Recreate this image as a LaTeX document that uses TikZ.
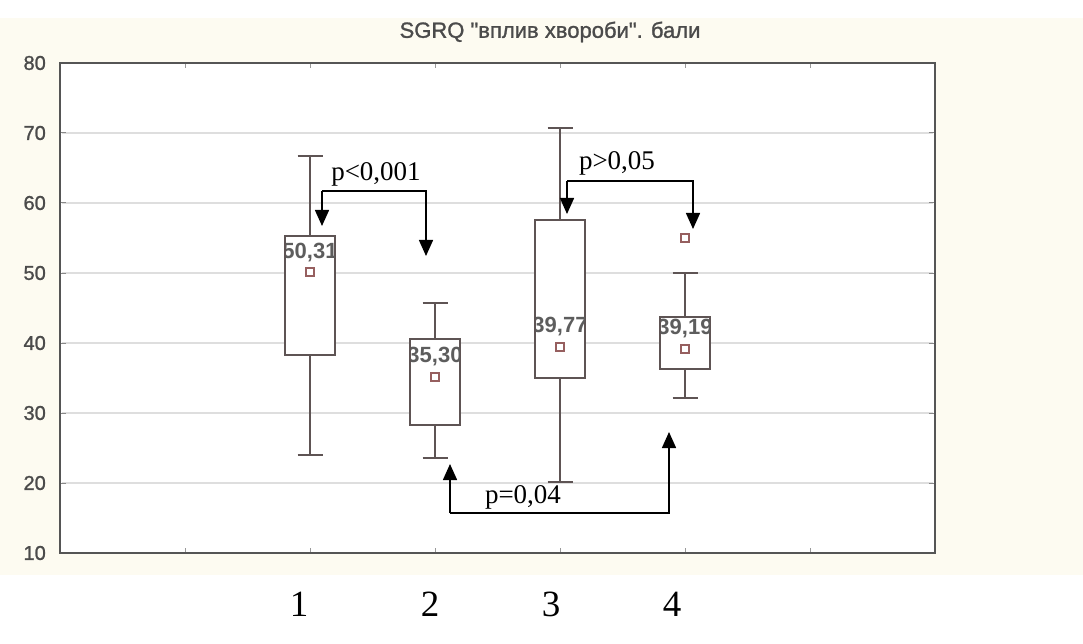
\documentclass[tikz,border=0pt]{standalone}
\usepackage{fontspec}
\setmainfont{Liberation Serif}
\newfontfamily\plotfont[FakeBold=1.2]{Liberation Sans}
\newfontfamily\plotbold{Liberation Sans Bold}
\usetikzlibrary{arrows.meta}
\definecolor{cream}{RGB}{253,251,241}
\definecolor{framegray}{RGB}{85,85,85}
\definecolor{gridgray}{RGB}{222,222,222}
\definecolor{boxgray}{RGB}{94,84,84}
\definecolor{meanred}{RGB}{150,95,95}
\definecolor{labgray}{RGB}{75,75,75}
\tikzset{
  boxline/.style={draw=boxgray, line width=1.4pt},
  meanmark/.style={draw=meanred, line width=1.6pt, fill=white, minimum size=8pt, inner sep=0pt, shape=rectangle},
  ylab/.style={font=\plotfont\fontsize{20}{20}\selectfont, text=labgray, anchor=east, inner sep=0pt},
  boxlab/.style={font=\plotbold\fontsize{22}{22}\selectfont, text=labgray!90, inner sep=0pt},
  catlab/.style={font=\fontsize{37}{37}\selectfont, inner sep=0pt},
  plab/.style={font=\fontsize{27}{27}\selectfont, inner sep=0pt},
  parrow/.style={line width=1.5pt, black},
  tip/.style={-{Triangle[length=16pt,width=14pt]}},
}
\begin{document}
\begin{tikzpicture}[x=1pt,y=-1pt]
\useasboundingbox (0,0) rectangle (1083,644);
\fill[white] (0,0) rectangle (1083,644);
\fill[cream] (0,18) rectangle (1083,575);
\fill[white] (60,63) rectangle (935,553);
% gridlines
\foreach \yy in {133,203,273,343,413,483}
  \draw[gridgray, line width=1.6pt] (62,\yy) -- (933,\yy);
% ticks
\foreach \yy in {133,203,273,343,413,483} {
  \draw[framegray!70, line width=1pt] (60,\yy) -- (66,\yy);
  \draw[framegray!70, line width=1pt] (929,\yy) -- (935,\yy);
}
\foreach \xx in {185,310,435,560,685,810} {
  \draw[framegray!60, line width=1pt] (\xx,63) -- (\xx,68);
  \draw[framegray!60, line width=1pt] (\xx,548) -- (\xx,553);
}
% frame
\draw[framegray, line width=2pt] (60,63) rectangle (935,553);
% title
\node[font=\plotfont\fontsize{22}{22}\selectfont, text=labgray] (title) at (550,32) {SGRQ "вплив хвороби". бали};
% y labels
\node[ylab] (y80) at (46,63) {80};
\node[ylab] (y70) at (46,133) {70};
\node[ylab] (y60) at (46,203) {60};
\node[ylab] (y50) at (46,273) {50};
\node[ylab] (y40) at (46,343) {40};
\node[ylab] (y30) at (46,413) {30};
\node[ylab] (y20) at (46,483) {20};
\node[ylab] (y10) at (46,553) {10};
% box 1
\draw[boxline] (310,156) -- (310,236) (310,355) -- (310,455);
\draw[boxline] (297.5,156) -- (322.5,156) (297.5,455) -- (322.5,455);
\draw[boxline, fill=white] (285,236) rectangle (335,355);
\begin{scope}\clip (286,237) rectangle (334,354);
\node[boxlab] (l1) at (310,253) {50,31};
\end{scope}
\node[meanmark] (m1) at (310,272) {};
% box 2
\draw[boxline] (435,303) -- (435,339) (435,425) -- (435,458);
\draw[boxline] (422.5,303) -- (447.5,303) (422.5,458) -- (447.5,458);
\draw[boxline, fill=white] (410,339) rectangle (460,425);
\begin{scope}\clip (411,340) rectangle (459,424);
\node[boxlab] (l2) at (435,357) {35,30};
\end{scope}
\node[meanmark] (m2) at (435,377) {};
% box 3
\draw[boxline] (560,128) -- (560,220) (560,378) -- (560,482);
\draw[boxline] (547.5,128) -- (572.5,128) (547.5,482) -- (572.5,482);
\draw[boxline, fill=white] (535,220) rectangle (585,378);
\begin{scope}\clip (536,221) rectangle (584,377);
\node[boxlab] (l3) at (560,327) {39,77};
\end{scope}
\node[meanmark] (m3) at (560,347) {};
% box 4
\draw[boxline] (685,273) -- (685,317) (685,369) -- (685,398);
\draw[boxline] (672.5,273) -- (697.5,273) (672.5,398) -- (697.5,398);
\draw[boxline, fill=white] (660,317) rectangle (710,369);
\begin{scope}\clip (661,318) rectangle (709,368);
\node[boxlab] (l4) at (685,329) {39,19};
\end{scope}
\node[meanmark] (m4) at (685,349) {};
\node[meanmark] (o4) at (685,238) {};
% significance arrows
\coordinate (a1s) at (322,191);
\coordinate (a1e) at (426,191);
\coordinate (a1t) at (322,226);
\coordinate (a1u) at (426,256);
\draw[parrow, tip] (a1s) -- (a1t);
\draw[parrow, tip] (a1s) -- (a1e) -- (a1u);
\node[plab] (p1) at (376,174) {p<0,001};
\coordinate (a2s) at (567,181);
\coordinate (a2e) at (693,181);
\coordinate (a2t) at (567,214);
\coordinate (a2u) at (693,229);
\draw[parrow, tip] (a2s) -- (a2t);
\draw[parrow, tip] (a2s) -- (a2e) -- (a2u);
\node[plab] (p2) at (617,163) {p>0,05};
\coordinate (a3s) at (450,513);
\coordinate (a3e) at (669,513);
\coordinate (a3t) at (450,464);
\coordinate (a3u) at (669,432);
\draw[parrow, tip] (a3s) -- (a3t);
\draw[parrow, tip] (a3s) -- (a3e) -- (a3u);
\node[plab] (p3) at (523,497) {p=0,04};
% category labels
\node[catlab] (c1) at (299,604) {1};
\node[catlab] (c2) at (430,604) {2};
\node[catlab] (c3) at (551,604) {3};
\node[catlab] (c4) at (672,604) {4};
\end{tikzpicture}
\end{document}
